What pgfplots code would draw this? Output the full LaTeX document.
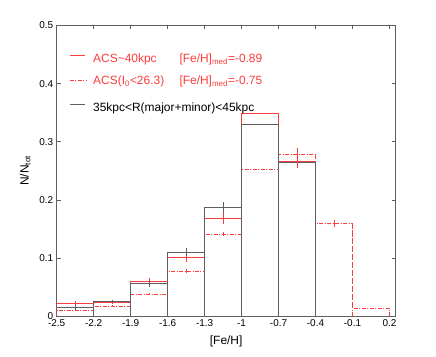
\documentclass[border=0pt]{standalone}
\usepackage{fontspec}
\setmainfont{Liberation Sans}
\usepackage{pgfplots}
\pgfplotsset{compat=1.18}
\definecolor{mred}{RGB}{255,60,60}
\definecolor{mgray}{RGB}{95,95,95}
\begin{document}
\begin{tikzpicture}[x=1bp,y=1bp]
\path[use as bounding box] (0,0) rectangle (436,356);
\begin{axis}[at={(56.7bp,40bp)}, anchor=south west, scale only axis,
  width=338.9bp, height=290.5bp,
  xmin=-2.5, xmax=0.25, ymin=0, ymax=0.5,
  xtick={-2.5,-2.2,-1.9,-1.6,-1.3,-1,-0.7,-0.4,-0.1,0.2},
  xticklabels={-2.5,-2.2,-1.9,-1.6,-1.3,-1,-0.7,-0.4,-0.1,0.2},
  ytick={0,0.1,0.2,0.3,0.4,0.5},
  yticklabels={0,0.1,0.2,0.3,0.4,0.5},
  /pgf/number format/assume math mode=true,
  tick align=inside, major tick length=4bp,
  axis line style={mgray, line width=0.5pt},
  tick style={mgray, line width=0.5pt},
  ticklabel style={font=\fontsize{10}{12}\selectfont},
  xlabel={[Fe/H]}, ylabel={N/N\textsubscript{tot}},
  xlabel style={yshift=-2bp},
  ylabel style={yshift=2bp},
  label style={font=\fontsize{12}{14}\selectfont},
  every axis plot/.append style={line width=0.6pt},
]
% dash-dot: ACS(I0<26.3)
\addplot[mred, const plot mark left, dash pattern=on 4pt off 1.5pt on 1pt off 1.5pt] coordinates {
 (-2.5,0) (-2.5,0.0098) (-2.2,0.0167) (-1.9,0.0379) (-1.6,0.0775) (-1.3,0.141)
 (-1.0,0.2525) (-0.7,0.279) (-0.4,0.1596) (-0.1,0.0132) (0.2,0.0132) (0.2,0)};
\addplot[mred, ycomb, dash pattern=on 4pt off 1.5pt on 1pt off 1.5pt] coordinates {
 (-2.2,0.0167) (-1.9,0.0379) (-1.6,0.0775) (-1.3,0.141) (-1.0,0.2525) (-0.7,0.279) (-0.4,0.279) (-0.1,0.1596)};
% solid red: ACS~40kpc
\addplot[mred, const plot mark left] coordinates {
 (-2.5,0) (-2.5,0.022) (-2.2,0.0236) (-1.9,0.0597) (-1.6,0.101) (-1.3,0.168)
 (-1.0,0.349) (-0.7,0.2668) (-0.4,0.2668) (-0.4,0)};
\addplot[mred, ycomb] coordinates {
 (-2.2,0.0236) (-1.9,0.0597) (-1.6,0.101) (-1.3,0.168) (-1.0,0.349) (-0.7,0.349)};
% black: 35kpc<R<45kpc
\addplot[mgray, const plot mark left] coordinates {
 (-2.5,0) (-2.5,0.015) (-2.2,0.0253) (-1.9,0.0563) (-1.6,0.1096) (-1.3,0.187)
 (-1.0,0.330) (-0.7,0.265) (-0.4,0.265) (-0.4,0)};
\addplot[mgray, ycomb] coordinates {
 (-2.2,0.0253) (-1.9,0.0563) (-1.6,0.1096) (-1.3,0.187) (-1.0,0.330) (-0.7,0.330)};
% error bars
\addplot[draw=none, mark=none, error bars/.cd, y dir=both, y explicit, error mark=none,
  error bar style={draw=mred, solid, line width=0.6pt}] coordinates {
 (-2.35,0.0098) +- (0,0.002) (-2.05,0.0167) +- (0,0.002) (-1.75,0.0379) +- (0,0.002)
 (-1.45,0.0775) +- (0,0.003) (-1.15,0.141) +- (0,0.004) (-0.55,0.272) +- (0,0.017)
 (-0.25,0.1596) +- (0,0.006)};
\addplot[draw=none, mark=none, error bars/.cd, y dir=both, y explicit, error mark=none,
  error bar style={draw=mred, solid, line width=0.6pt}] coordinates {
 (-2.35,0.022) +- (0,0.004) (-2.05,0.0236) +- (0,0.003) (-1.75,0.0597) +- (0,0.005)
 (-1.45,0.101) +- (0,0.008) (-1.15,0.168) +- (0,0.010)};
\addplot[draw=none, mark=none, error bars/.cd, y dir=both, y explicit, error mark=none,
  error bar style={draw=mgray, solid, line width=0.6pt}] coordinates {
 (-2.35,0.015) +- (0,0.005) (-2.05,0.0253) +- (0,0.003) (-1.75,0.0563) +- (0,0.006)
 (-1.45,0.1096) +- (0,0.007) (-1.15,0.187) +- (0,0.009)};
\end{axis}
% legend
\draw[mred, line width=0.6pt] (70,300.3) -- (85,300.3);
\draw[mred, line width=0.6pt, dash pattern=on 4pt off 1.5pt on 1pt off 1.5pt] (70,276) -- (86,276);
\draw[mgray, line width=0.6pt] (70,251.7) -- (85,251.7);
\begin{scope}[every node/.style={anchor=base west, inner sep=0pt, font=\fontsize{12}{14}\selectfont}]
\node[text=mred] at (93,293.3) {ACS\textasciitilde 40kpc};
\node[text=mred] at (179.3,293.3) {[Fe/H]\textsubscript{med}=-0.89};
\node[text=mred] at (93,271.7) {ACS(I\textsubscript{0}<26.3)};
\node[text=mred] at (179.3,271.7) {[Fe/H]\textsubscript{med}=-0.75};
\node[text=black] at (93,245) {35kpc<R(major+minor)<45kpc};
\end{scope}
\end{tikzpicture}
\end{document}
